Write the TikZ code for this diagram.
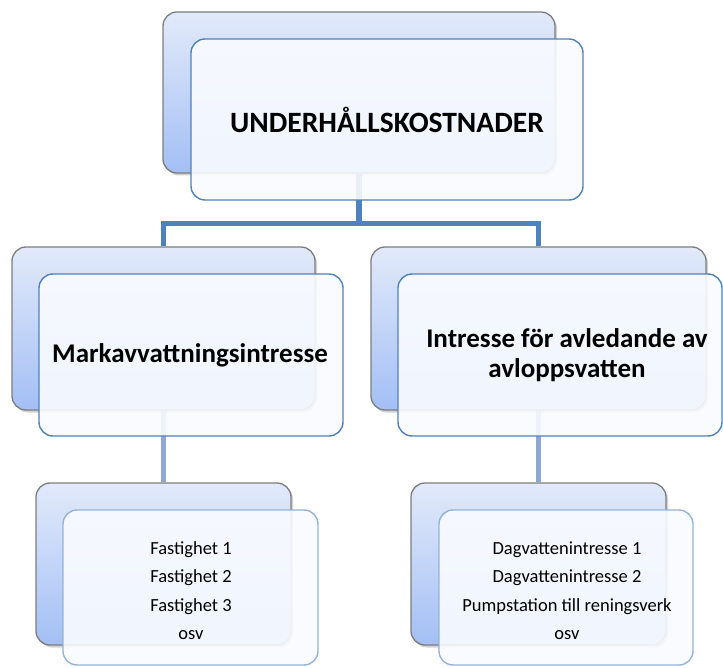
\documentclass[tikz,border=0pt]{standalone}
\usepackage{fontspec}
\setmainfont{Carlito}
\usetikzlibrary{shadows}
\definecolor{frontblue}{RGB}{79,129,189}
\definecolor{lightedge}{RGB}{149,179,215}
\definecolor{connB}{RGB}{142,168,214}
\definecolor{backtop}{RGB}{226,234,250}
\definecolor{backbot}{RGB}{163,191,245}
\definecolor{frontfill}{RGB}{249,251,255}
\definecolor{backedge}{RGB}{125,125,125}
\tikzset{
  backbox/.style={draw=backedge, line width=1.3pt, rounded corners=14pt,
    top color=backtop, bottom color=backbot,
    drop shadow={shadow xshift=2pt, shadow yshift=-2.5pt, opacity=0.35},
    inner sep=0pt},
  frontbox/.style={draw=frontblue, line width=1.4pt, rounded corners=14pt,
    fill=frontfill, fill opacity=0.9, inner sep=0pt},
  frontboxlight/.style={frontbox, draw=lightedge},
  connA/.style={draw=frontblue, line width=5.5pt, line join=miter},
  connBstyle/.style={draw=connB, line width=5pt},
  titletext/.style={font=\bfseries\fontsize{29.5}{34}\selectfont},
  midtext/.style={font=\bfseries\fontsize{27}{30}\selectfont, align=center},
  smalltext/.style={font=\fontsize{18.5}{28.5}\selectfont, align=center}
}
\begin{document}
\begin{tikzpicture}[x=1pt,y=-1pt]
\useasboundingbox (0,0) rectangle (723,668);
\fill[white] (0,0) rectangle (723,668);

% back boxes
\node[backbox, minimum width=392pt, minimum height=161pt] (t0b) at (359,92.5) {};
\node[backbox, minimum width=303pt, minimum height=163pt] (l1b) at (163.5,328.5) {};
\node[backbox, minimum width=335pt, minimum height=163pt] (r1b) at (538.5,328.5) {};
\node[backbox, minimum width=255pt, minimum height=162pt] (l2b) at (163.5,564) {};
\node[backbox, minimum width=255pt, minimum height=162pt] (r2b) at (538.5,564) {};

% connectors
\coordinate (j) at (359,223.5);
\draw[connA] (t0b.south) -- (j);
\draw[connA] (l1b.north) |- (j) -| (r1b.north);
\draw[connBstyle] (l1b.south) -- (l2b.north);
\draw[connBstyle] (r1b.south) -- (r2b.north);

% front boxes
\node[frontbox, minimum width=392pt, minimum height=161pt] (t0f) at (387,119.5) {};
\node[frontbox, minimum width=304pt, minimum height=162pt] (l1f) at (191,355) {};
\node[frontbox, minimum width=324pt, minimum height=162pt] (r1f) at (560,355) {};
\node[frontboxlight, minimum width=255pt, minimum height=155pt] (l2f) at (190.5,587.5) {};
\node[frontboxlight, minimum width=254pt, minimum height=155pt] (r2f) at (566,587.5) {};

% texts
\node[titletext] (t0t) at (387,120) {UNDERHÅLLSKOSTNADER};
\node[midtext] (l1t) at (190,355) {Markavvattningsintresse};
\node[midtext] (r1t) at (567,355) {Intresse för avledande av\\avloppsvatten};
\node[smalltext] (l2t) at (191,590.5) {Fastighet 1\\Fastighet 2\\Fastighet 3\\osv};
\node[smalltext] (r2t) at (567,590.5) {Dagvattenintresse 1\\Dagvattenintresse 2\\Pumpstation till reningsverk\\osv};
\end{tikzpicture}
\end{document}
